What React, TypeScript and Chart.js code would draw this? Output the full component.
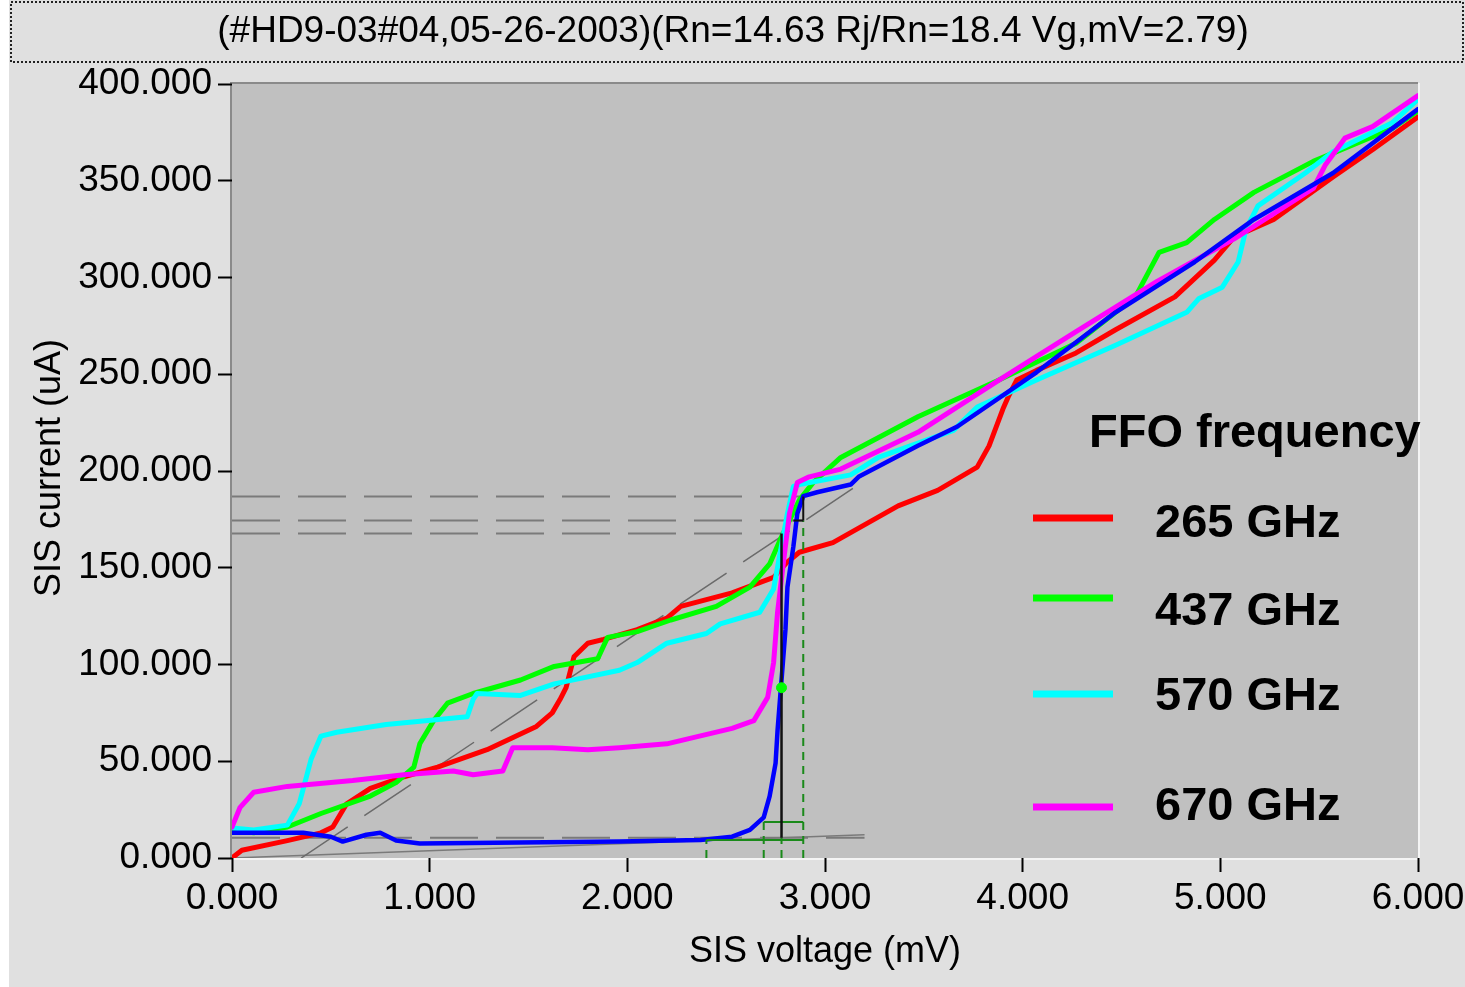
import React, { useEffect, useRef } from "react";
import { Chart, registerables } from "chart.js";

Chart.register(...registerables);

// ---- Data (SIS voltage in mV, SIS current in uA) ----
const titleText = "(#HD9-03#04,05-26-2003)(Rn=14.63 Rj/Rn=18.4 Vg,mV=2.79)";
const xTitle = "SIS voltage (mV)";
const yTitle = "SIS current (uA)";
const legendTitle = "FFO frequency";
const freqLabels = ["265 GHz", "437 GHz", "570 GHz", "670 GHz"];
const freqColors = ["#ff0000", "#00ff00", "#00ffff", "#ff00ff"];

const redV = [0, 0.05, 0.28, 0.45, 0.51, 0.58, 0.7, 0.87, 1.04, 1.29, 1.54, 1.62, 1.66, 1.69, 1.73, 1.8, 1.88, 2.05, 2.2, 2.27, 2.53, 2.74, 2.81, 2.87, 3.04, 3.37, 3.57, 3.77, 3.83, 3.9, 3.93, 3.97, 4.07, 4.27, 4.47, 4.77, 4.97, 5.07, 5.27, 5.57, 5.77, 6.0];
const redI = [0, 4, 9, 13, 16, 28, 36, 42, 47, 56, 68, 75, 82, 88, 104, 111, 113, 118, 124, 130, 137, 145, 153, 158, 163, 182, 190, 202, 213, 232, 239, 247, 252, 261, 273, 290, 309, 321, 330, 352, 366, 383];

const greenV = [0, 0.11, 0.28, 0.45, 0.7, 0.83, 0.92, 0.95, 1.02, 1.09, 1.22, 1.46, 1.63, 1.85, 1.9, 2.05, 2.22, 2.45, 2.62, 2.72, 2.78, 2.87, 2.94, 3.08, 3.47, 3.88, 4.27, 4.57, 4.69, 4.83, 4.97, 5.17, 5.47, 5.87, 6.0];
const greenI = [14.5, 13, 16, 23, 32, 39, 47, 59, 71, 80, 85, 92, 99, 103, 114, 117, 123, 130, 140, 152, 166, 185, 194, 207, 228, 247, 266, 290, 313, 318, 330, 344, 360, 377, 386];

const cyanV = [0, 0.11, 0.28, 0.34, 0.4, 0.45, 0.53, 0.78, 1.19, 1.22, 1.24, 1.46, 1.63, 1.96, 2.05, 2.2, 2.4, 2.47, 2.67, 2.74, 2.77, 2.81, 2.84, 2.87, 3.13, 3.27, 3.65, 3.77, 4.07, 4.47, 4.83, 4.89, 5.01, 5.09, 5.13, 5.19, 5.43, 5.57, 5.87, 6.0];
const cyanI = [15.5, 14.5, 17, 28, 51, 63, 65, 69, 73, 82, 85, 84, 90, 97, 101, 111, 116, 121, 127, 139, 156, 178, 192, 193, 198, 207, 221, 233, 247, 265, 282, 289, 295, 308, 325, 337, 354, 365, 380, 392];

const magentaV = [0, 0.04, 0.11, 0.28, 0.61, 0.87, 1.12, 1.22, 1.37, 1.42, 1.62, 1.8, 1.96, 2.2, 2.53, 2.64, 2.71, 2.74, 2.76, 2.79, 2.82, 2.86, 2.92, 3.08, 3.47, 3.88, 4.27, 4.68, 5.07, 5.47, 5.53, 5.63, 5.77, 6.0];
const magentaI = [16, 26, 34, 37, 40, 43, 45, 43, 45, 57, 57, 56, 57, 59, 67, 71, 83, 101, 127, 153, 178, 194, 197, 201, 220, 247, 272, 298, 320, 346, 358, 372, 378, 394];

const blueV = [0, 0.36, 0.5, 0.56, 0.68, 0.75, 0.83, 0.95, 1.96, 2.37, 2.53, 2.62, 2.69, 2.72, 2.75, 2.76, 2.78, 2.8, 2.81, 2.84, 2.86, 2.89, 2.96, 3.13, 3.17, 3.47, 3.67, 4.07, 4.47, 4.87, 5.17, 5.57, 6.0];
const blueI = [13, 13, 11, 8.5, 12, 13, 9, 7.5, 8.5, 9.3, 11, 14.5, 21, 32, 49, 66, 92, 118, 140, 161, 178, 187, 189, 193, 197, 213, 223, 251, 282, 308, 330, 354, 387];

// auxiliary analysis lines
const rnLineV = [0.35, 3.2];
const rnLineI = [0, 195];
const leakV = [0, 3.2];
const leakI = [0, 12];
const gapLevelI = [186.8, 174.4, 167.7];
const gapLevelEndV = [2.89, 2.89, 2.78];
const baseLevelI = 10.5;
const baseLevelEndV = 3.2;
const vgV = 2.78;
const stepV = [2.89, 2.78, 2.69, 2.4];
const stepTopI = [174.4, 10.5, 18.6, 9.3];
const stepBarStartV = [2.4, 2.69];
const stepBarEndV = [2.89, 2.89];
const stepBarI = [9.3, 18.6];
const markV = [2.78];
const markI = [88];

// x/y tick settings
const xMin = 0, xMax = 6, xStep = 1;
const yMin = 0, yMax = 400, yStep = 50;

const pts = (v: number[], i: number[]) => v.map((x, k) => ({ x, y: i[k] }));

const FONT = '"Liberation Sans", Arial, sans-serif';

export default function App() {
  const ref = useRef<HTMLCanvasElement>(null);

  useEffect(() => {
    const canvas = ref.current!;
    const aux: any[] = [];
    const grayDash = { borderColor: "#7a7a7a", borderWidth: 2, borderDash: [48, 18], pointRadius: 0 };
    gapLevelI.forEach((lv, k) => {
      aux.push({ ...grayDash, data: [{ x: 0, y: lv }, { x: gapLevelEndV[k], y: lv }], order: 20 });
    });
    aux.push({ ...grayDash, data: [{ x: 0, y: baseLevelI }, { x: baseLevelEndV, y: baseLevelI }], order: 20 });
    aux.push({ borderColor: "#6a6a6a", borderWidth: 1.5, borderDash: [56, 20], pointRadius: 0, data: pts(rnLineV, rnLineI), order: 20 });
    aux.push({ borderColor: "#7a7a7a", borderWidth: 1.5, pointRadius: 0, data: pts(leakV, leakI), order: 20 });
    stepV.forEach((v, k) => {
      aux.push({ borderColor: "#1a8a1a", borderWidth: 2, borderDash: [8, 6], pointRadius: 0, data: [{ x: v, y: 0 }, { x: v, y: stepTopI[k] }], order: 3 });
    });
    stepBarI.forEach((lv, k) => {
      aux.push({ borderColor: "#1a8a1a", borderWidth: 2, pointRadius: 0, data: [{ x: stepBarStartV[k], y: lv }, { x: stepBarEndV[k], y: lv }], order: 3 });
    });
    aux.push({ borderColor: "#111", borderWidth: 2.5, pointRadius: 0, data: [{ x: vgV, y: baseLevelI }, { x: vgV, y: gapLevelI[2] }], order: 2 });
    aux.push({ borderColor: "#111", borderWidth: 2, pointRadius: 0, data: [{ x: gapLevelEndV[0], y: gapLevelI[1] }, { x: gapLevelEndV[0], y: gapLevelI[0] }], order: 2 });
    aux.push({ borderColor: "#111", borderWidth: 2, pointRadius: 0, data: [{ x: 2.84, y: gapLevelI[1] }, { x: gapLevelEndV[0], y: gapLevelI[1] }], order: 2 });
    aux.push({ showLine: false, pointRadius: 5, pointBackgroundColor: "#00ff00", pointBorderColor: "#00ff00", data: pts(markV, markI), order: 1 });

    const curve = (v: number[], i: number[], color: string, order: number, w = 5) => ({
      data: pts(v, i),
      borderColor: color,
      borderWidth: w,
      pointRadius: 0,
      tension: 0,
      borderJoinStyle: "round",
      borderCapStyle: "round",
      order,
    });

    const datasets = [
      curve(redV, redI, freqColors[0], 9),
      curve(greenV, greenI, freqColors[1], 8),
      curve(cyanV, cyanI, freqColors[2], 7),
      curve(magentaV, magentaI, freqColors[3], 6),
      curve(blueV, blueI, "#0000ff", 5, 4.5),
      ...aux,
    ];

    const decor = {
      id: "decor",
      beforeDraw(chart: any) {
        const { ctx, chartArea: a, width, height } = chart;
        ctx.save();
        ctx.fillStyle = "#e0e0e0";
        ctx.fillRect(0, 0, width, height);
        ctx.fillStyle = "#ffffff";
        ctx.fillRect(0, 0, 9, height);
        ctx.fillStyle = "#c0c0c0";
        ctx.fillRect(a.left, a.top, a.right - a.left, a.bottom - a.top);
        // 3D frame
        ctx.lineWidth = 2;
        ctx.strokeStyle = "#8a8a8a";
        ctx.beginPath();
        ctx.moveTo(a.left - 1, a.bottom);
        ctx.lineTo(a.left - 1, a.top - 1);
        ctx.lineTo(a.right, a.top - 1);
        ctx.stroke();
        ctx.strokeStyle = "#f4f4f4";
        ctx.beginPath();
        ctx.moveTo(a.right + 1, a.top - 1);
        ctx.lineTo(a.right + 1, a.bottom + 1);
        ctx.lineTo(a.left - 1, a.bottom + 1);
        ctx.stroke();
        // title box
        ctx.strokeStyle = "#222";
        ctx.lineWidth = 2;
        ctx.setLineDash([2, 2]);
        ctx.strokeRect(11, 2, 1452, 60);
        ctx.setLineDash([]);
        ctx.fillStyle = "#000";
        ctx.font = `37px ${FONT}`;
        ctx.textAlign = "center";
        ctx.textBaseline = "alphabetic";
        ctx.fillText(titleText, 733, 42);
        // axis titles
        ctx.font = `36px ${FONT}`;
        ctx.fillText(xTitle, (a.left + a.right) / 2, 962);
        ctx.translate(60, 468);
        ctx.rotate(-Math.PI / 2);
        ctx.fillText(yTitle, 0, 0);
        ctx.restore();
      },
      afterDatasetsDraw(chart: any) {
        const { ctx } = chart;
        ctx.save();
        ctx.fillStyle = "#000";
        ctx.textAlign = "left";
        ctx.textBaseline = "alphabetic";
        ctx.font = `bold 47px ${FONT}`;
        ctx.fillText(legendTitle, 1089, 447);
        const lineY = [518, 598, 694, 807];
        const textY = [537, 625, 710, 820];
        freqLabels.forEach((lab, k) => {
          ctx.strokeStyle = freqColors[k];
          ctx.lineWidth = 7;
          ctx.beginPath();
          ctx.moveTo(1033, lineY[k]);
          ctx.lineTo(1113, lineY[k]);
          ctx.stroke();
          ctx.fillText(lab, 1155, textY[k]);
        });
        ctx.restore();
      },
    };

    const tickFont = { size: 37, family: FONT };
    const chart = new Chart(canvas, {
      type: "line",
      data: { datasets: datasets as any },
      options: {
        animation: false,
        responsive: false,
        devicePixelRatio: 1,
        layout: { padding: { top: 84, right: 47, left: 0, bottom: 0 } },
        plugins: { legend: { display: false }, tooltip: { enabled: false } },
        scales: {
          x: {
            type: "linear",
            min: xMin,
            max: xMax,
            ticks: { stepSize: xStep, callback: (v: any) => Number(v).toFixed(3), font: tickFont, color: "#000", padding: 5, maxRotation: 0, autoSkip: false },
            grid: { drawOnChartArea: false, drawTicks: true, tickLength: 14, tickColor: "#000", tickWidth: 2 },
            border: { display: false },
            afterFit: (s: any) => { s.height = 129; s.paddingLeft = 0; s.paddingRight = 0; },
          },
          y: {
            type: "linear",
            min: yMin,
            max: yMax,
            ticks: { stepSize: yStep, callback: (v: any) => Number(v).toFixed(3), font: tickFont, color: "#000", padding: 6, autoSkip: false },
            grid: { drawOnChartArea: false, drawTicks: true, tickLength: 14, tickColor: "#000", tickWidth: 2 },
            border: { display: false },
            afterFit: (s: any) => { s.width = 232; s.paddingTop = 0; s.paddingBottom = 0; },
          },
        },
      } as any,
      plugins: [decor],
    });
    return () => chart.destroy();
  }, []);

  return (
    <div style={{ position: "fixed", left: 0, top: 0, width: 1465, height: 987 }}>
      <canvas ref={ref} width={1465} height={987} style={{ display: "block", width: 1465, height: 987 }} />
    </div>
  );
}
